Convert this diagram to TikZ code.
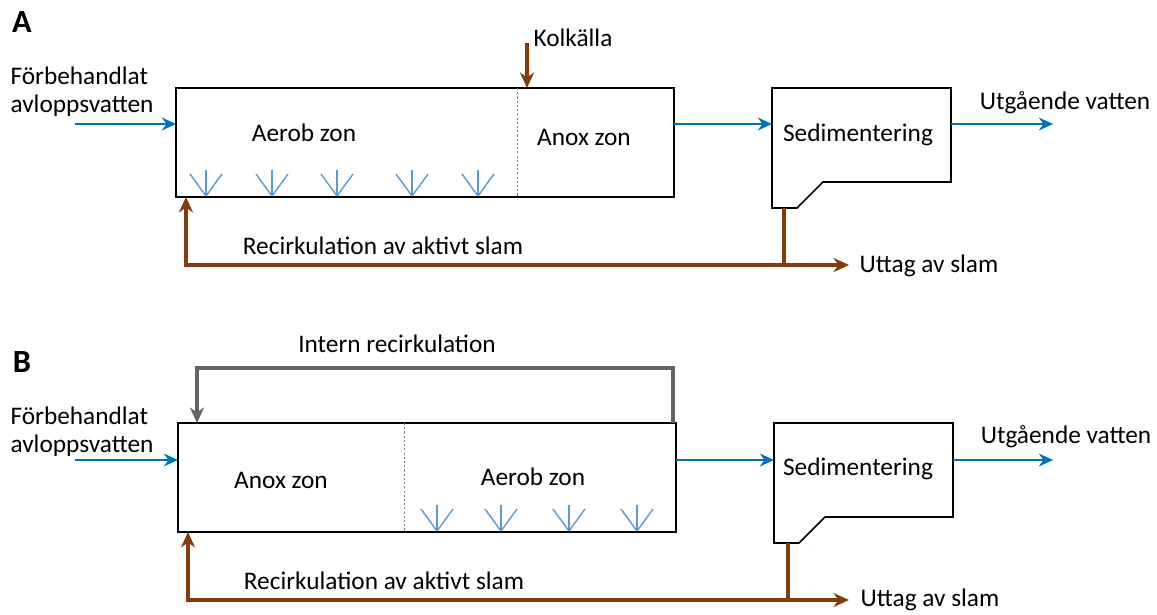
\documentclass[tikz,border=0pt]{standalone}
\usepackage{fontspec}
\setmainfont{Carlito}
\usetikzlibrary{arrows.meta}
\definecolor{flowblue}{RGB}{0,112,192}
\definecolor{sludgebrown}{RGB}{132,60,12}
\definecolor{airblue}{RGB}{91,155,213}
\definecolor{recgray}{RGB}{100,100,100}
\tikzset{
	tank/.style={draw=black, line width=1.2pt},
	zoneline/.style={draw=gray, line width=0.6pt, dash pattern=on 1.5pt off 1.5pt},
	water/.style={flowblue, line width=2.1pt, -{Stealth[length=10pt,width=9pt]}},
	sludge/.style={sludgebrown, line width=2.2pt},
	sludgearrow/.style={sludge, -{Stealth[length=11pt,width=10pt]}},
	internal/.style={recgray, line width=2.8pt, -{Stealth[length=11pt,width=10pt]}},
	air/.style={airblue, line width=1pt}
}
% one diffuser, bottom point given
\newcommand{\diffuser}[2]{
	\draw[air] (#1,#2) -- ++(-16,-22);
	\draw[air] (#1,#2) -- ++(0,-26);
	\draw[air] (#1,#2) -- ++(16,-22);
}

\begin{document}
\begin{tikzpicture}[x=0.025cm, y=-0.025cm]
	% Default action for each node
	\tikzstyle{every node}=[font=\fontsize{18}{20}\selectfont, inner sep=0pt, align=left];
	\useasboundingbox (0,0) rectangle (1157,614);

	%%%%%%%%%%%%%%%%%%%% A %%%%%%%%%%%%%%%%%%%%
	\node[font=\fontsize{23}{23}\selectfont\bfseries] (labA) at (22,22) {A};

	\coordinate (inA) at (75,124);		\coordinate (boxAwest) at (176,124);	\coordinate (boxAeast) at (674,124);
	\coordinate (sedAwest) at (772,124);	\coordinate (sedAeast) at (951,124);	\coordinate (outA) at (1053,124);
	\coordinate (carbonA) at (527,43);	\coordinate (carbonAend) at (527,88);
	\coordinate (sedAbottom) at (784,208);	\coordinate (splitA) at (784,265);	\coordinate (wasteA) at (849,265);
	\coordinate (cornerA) at (186,265);	\coordinate (returnA) at (186,197);

	% Tanks
	\draw[tank] (176,88) rectangle (674,197);
	\draw[zoneline] (517,88) -- (517,197);
	\draw[tank] (772,88) -- (951,88) -- (951,182) -- (823,182) -- (797,208) -- (772,208) -- cycle;

	\foreach \x in {206,272,337,412,478}
		\diffuser{\x}{196};

	\node (feedA) at (82,92) {Förbehandlat\\avloppsvatten};
	\node (aerA) at (304,133) {Aerob zon};
	\node (anoxA) at (584,137) {Anox zon};
	\node (sedA) at (858,135) {Sedimentering};
	\node (carbonlab) at (573,38) {Kolkälla};
	\node (effA) at (1065,103) {Utgående vatten};
	\node (rasA) at (383,246) {Recirkulation av aktivt slam};
	\node (wasA) at (929,266) {Uttag av slam};

	% Water
	\draw[water] (inA) -- (boxAwest);
	\draw[water] (boxAeast) -- (sedAwest);
	\draw[water] (sedAeast) -- (outA);

	% Sludge
	\draw[sludgearrow] (carbonA) -- (carbonAend);
	\draw[sludgearrow] (sedAbottom) -- (splitA) -- (wasteA);
	\draw[sludgearrow] (splitA) -- (cornerA) -- (returnA);

	%%%%%%%%%%%%%%%%%%%% B %%%%%%%%%%%%%%%%%%%%
	\node[font=\fontsize{23}{23}\selectfont\bfseries] (labB) at (22,362) {B};

	\coordinate (inB) at (75,460);		\coordinate (boxBwest) at (178,460);	\coordinate (boxBeast) at (676,460);
	\coordinate (sedBwest) at (774,460);	\coordinate (sedBeast) at (953,460);	\coordinate (outB) at (1053,460);
	\coordinate (intstart) at (673,423);	\coordinate (intup) at (673,368);	\coordinate (intleft) at (197,368);	\coordinate (intend) at (197,423);
	\coordinate (sedBbottom) at (788,543);	\coordinate (splitB) at (788,600);	\coordinate (wasteB) at (849,600);
	\coordinate (cornerB) at (188,600);	\coordinate (returnB) at (188,532);

	% Tanks
	\draw[tank] (178,423) rectangle (676,532);
	\draw[zoneline] (404,423) -- (404,532);
	\draw[tank] (774,423) -- (953,423) -- (953,517) -- (825,517) -- (799,543) -- (774,543) -- cycle;

	\foreach \x in {437,501,569,637}
		\diffuser{\x}{531};

	\node (feedB) at (82,432) {Förbehandlat\\avloppsvatten};
	\node (anoxB) at (281,480) {Anox zon};
	\node (aerB) at (533,477) {Aerob zon};
	\node (sedB) at (858,469) {Sedimentering};
	\node (intlab) at (397,344) {Intern recirkulation};
	\node (effB) at (1066,437) {Utgående vatten};
	\node (rasB) at (384,581) {Recirkulation av aktivt slam};
	\node (wasB) at (930,600) {Uttag av slam};

	% Water
	\draw[water] (inB) -- (boxBwest);
	\draw[water] (boxBeast) -- (sedBwest);
	\draw[water] (sedBeast) -- (outB);
	\draw[internal] (intstart) -- (intup) -- (intleft) -- (intend);

	% Sludge
	\draw[sludgearrow] (sedBbottom) -- (splitB) -- (wasteB);
	\draw[sludgearrow] (splitB) -- (cornerB) -- (returnB);
\end{tikzpicture}
\end{document}
